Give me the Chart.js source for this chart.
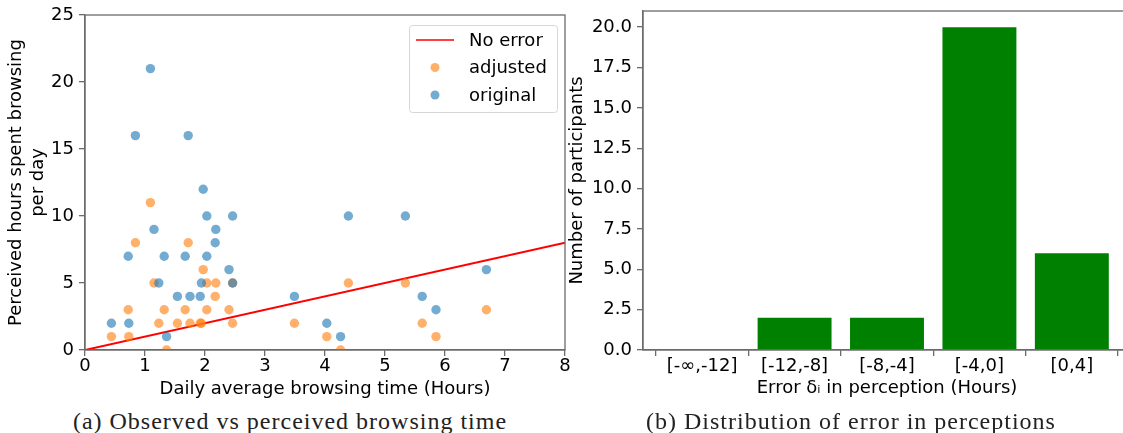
<!DOCTYPE html>
<html><head><meta charset="utf-8">
<script src="https://cdn.jsdelivr.net/npm/chart.js@4"></script>
<style>
html,body{margin:0;padding:0;background:#fff;overflow:hidden;width:1123px;height:433px;}
#wrap{position:relative;width:1123px;height:433px;overflow:hidden;}
#c1{position:absolute;left:0;top:0;}
#c2{position:absolute;left:560px;top:0;}
.cap{position:absolute;top:406px;line-height:30px;font-family:"Liberation Serif","DejaVu Serif",serif;font-size:24px;letter-spacing:1px;color:#222;white-space:nowrap;transform:translateX(-50%);}
</style></head><body>
<div id="wrap">
<canvas id="c1" width="580" height="400"></canvas>
<canvas id="c2" width="590" height="400"></canvas>
<div class="cap" style="left:290px">(a) Observed vs perceived browsing time</div>
<div class="cap" style="left:851px">(b) Distribution of error in perceptions</div>
</div>
<script>
// ---- data: panel (a) ----
const browsingHours = [0.44,0.73,0.72,0.84,1.09,1.15,1.23,1.32,1.36,1.54,1.67,1.72,1.75,1.92,1.94,1.97,2.03,2.03,2.17,2.18,2.40,2.46,2.46,3.49,4.03,4.26,4.39,5.34,5.62,5.85,6.69];
const originalPerceived = [2,2,7,16,21,9,5,7,1,4,7,16,4,4,5,12,10,7,8,9,6,10,5,4,2,1,10,10,4,3,6];
const adjustedPerceived = [1,1,3,8,11,5,2,3,0,2,3,8,2,2,2,6,5,3,4,5,3,5,2,2,1,0,5,5,2,1,3];
const noErrorX = [0, 8];
const noErrorY = [0, 8];
const xTicksA = [0,1,2,3,4,5,6,7,8];
const yTicksA = [0,5,10,15,20,25];
// ---- data: panel (b) ----
const errorBins = ['[-\u221e,-12]','[-12,-8]','[-8,-4]','[-4,0]','[0,4]'];
const participantCounts = [0,2,2,20,6];
const yTicksB = [0,2.5,5,7.5,10,12.5,15,17.5,20];

const FONT = {family:'"DejaVu Sans", sans-serif', size:18, lineHeight:1.2};
const AXC = '#6b6b6b';

const framePlugin = {
  id:'frame',
  afterDraw(chart){
    const a = chart.chartArea, ctx = chart.ctx;
    ctx.save();
    ctx.strokeStyle = AXC; ctx.lineWidth = 1.3;
    ctx.strokeRect(a.left, a.top, a.right - a.left, a.bottom - a.top);
    ctx.restore();
  }
};

const legendPlugin = {
  id:'innerLegend',
  afterDraw(chart){
    const a = chart.chartArea, ctx = chart.ctx;
    const w = 148, h = 87;
    const x0 = a.right - 8 - w, y0 = a.top + 10;
    ctx.save();
    ctx.fillStyle = 'rgba(255,255,255,0.8)';
    ctx.strokeStyle = '#d6d6d6'; ctx.lineWidth = 1;
    ctx.beginPath();
    ctx.roundRect(x0+0.5, y0+0.5, w, h, 3);
    ctx.fill(); ctx.stroke();
    ctx.font = '18px "DejaVu Sans", sans-serif';
    ctx.textBaseline = 'middle';
    chart.data.datasets.forEach((ds, i) => {
      const cy = y0 + 15 + i * 27.5;
      if (ds.type === 'line') {
        ctx.strokeStyle = ds.borderColor; ctx.lineWidth = 1.6;
        ctx.beginPath(); ctx.moveTo(x0+7, cy); ctx.lineTo(x0+45, cy); ctx.stroke();
      } else {
        ctx.fillStyle = ds.backgroundColor;
        ctx.beginPath(); ctx.arc(x0+26, cy, 4.5, 0, Math.PI*2); ctx.fill();
      }
      ctx.fillStyle = '#000';
      ctx.fillText(ds.label, x0 + 60, cy + 1);
    });
    ctx.restore();
  }
};

const tickGrid = {display:true, drawOnChartArea:false, drawTicks:true, tickLength:6, color:AXC, lineWidth:1.3};
const noPadV = s => { s.paddingTop = 0; s.paddingBottom = 0; };
const noPadH = s => { s.paddingLeft = 0; s.paddingRight = 0; };

new Chart(document.getElementById('c1'), {
  type:'scatter',
  data:{datasets:[
    {type:'line', label:'No error', data: noErrorX.map((x,i)=>({x, y:noErrorY[i]})),
      borderColor:'#ff0000', borderWidth:2, pointRadius:0, fill:false, order:3, clip:0},
    {label:'adjusted', data: browsingHours.map((x,i)=>({x, y:adjustedPerceived[i]})),
      backgroundColor:'rgba(255,127,14,0.62)', borderWidth:0, pointRadius:4.7, order:2, clip:0},
    {label:'original', data: browsingHours.map((x,i)=>({x, y:originalPerceived[i]})),
      backgroundColor:'rgba(31,119,180,0.62)', borderWidth:0, pointRadius:4.7, order:1, clip:0}
  ]},
  options:{
    responsive:false, animation:false, devicePixelRatio:1,
    layout:{padding:{top:15, right:15, left:0, bottom:0}},
    plugins:{legend:{display:false}, tooltip:{enabled:false}},
    scales:{
      x:{type:'linear', min:0, max:8,
        afterBuildTicks: s => { s.ticks = xTicksA.map(v=>({value:v})); },
        afterFit: s => { s.height = 50; noPadH(s); },
        ticks:{color:'#000', font:FONT, padding:0, maxRotation:0},
        grid:tickGrid, border:{display:true, color:AXC, width:1.3},
        title:{display:true, text:'Daily average browsing time (Hours)', color:'#000', font:FONT, padding:{top:0,bottom:0}}},
      y:{type:'linear', min:0, max:25,
        afterBuildTicks: s => { s.ticks = yTicksA.map(v=>({value:v})); },
        afterFit: s => { s.width = 85; noPadV(s); },
        ticks:{color:'#000', font:FONT, padding:5},
        grid:tickGrid, border:{display:true, color:AXC, width:1.3},
        title:{display:true, text:['Perceived hours spent browsing','per day'], color:'#000', font:FONT, padding:{top:6,bottom:0}}}
    }
  },
  plugins:[framePlugin, legendPlugin]
});

new Chart(document.getElementById('c2'), {
  type:'bar',
  data:{datasets:[
    {label:'participants', data: participantCounts.map((v,i)=>({x:i, y:v})),
      backgroundColor:'#008000', borderWidth:0, barPercentage:0.8, categoryPercentage:1}
  ]},
  options:{
    responsive:false, animation:false, devicePixelRatio:1,
    layout:{padding:{top:11, right:19, left:0, bottom:0}},
    plugins:{legend:{display:false}, tooltip:{enabled:false}},
    scales:{
      x:{type:'linear', min:-0.64, max:4.64, offset:false,
        afterBuildTicks: s => { s.ticks = errorBins.map((_,i)=>({value:i})); },
        afterFit: s => { s.height = 50; noPadH(s); },
        ticks:{color:'#000', font:FONT, padding:0, maxRotation:0, autoSkip:false,
          callback: v => errorBins[Math.round(v)]},
        grid:tickGrid, border:{display:true, color:AXC, width:1.3},
        title:{display:true, text:'Error \u03b4\u1d62 in perception (Hours)', color:'#000', font:FONT, padding:{top:0,bottom:0.5}}},
      y:{type:'linear', min:0, max:21,
        afterBuildTicks: s => { s.ticks = yTicksB.map(v=>({value:v})); },
        afterFit: s => { s.width = 83; noPadV(s); },
        ticks:{color:'#000', font:FONT, padding:5, callback: v => Number(v).toFixed(1)},
        grid:tickGrid, border:{display:true, color:AXC, width:1.3},
        title:{display:true, text:'Number of participants', color:'#000', font:FONT, padding:{top:7,bottom:0}}}
    }
  },
  plugins:[framePlugin]
});
</script>
</body></html>
